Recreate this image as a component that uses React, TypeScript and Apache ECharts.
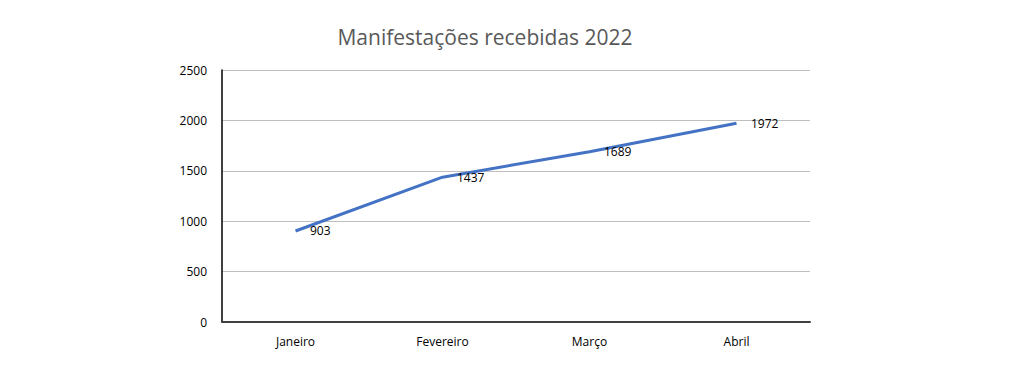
import React, { useEffect, useRef } from "react";
import * as echarts from "echarts";

const categories = ["Janeiro", "Fevereiro", "Março", "Abril"];
const values = [903, 1437, 1689, 1972];
const titleText = "Manifestações recebidas 2022";

export default function App() {
  const ref = useRef<HTMLDivElement>(null);
  useEffect(() => {
    const chart = echarts.init(ref.current!, null, { renderer: "svg" });
    chart.setOption({
      animation: false,
      backgroundColor: "#ffffff",
      title: {
        text: titleText,
        left: 480,
        textAlign: "center",
        top: 21,
        textStyle: { fontFamily: "Open Sans", fontSize: 21, fontWeight: "normal", color: "#595959" },
      },
      grid: { left: 222, right: 216, top: 70, bottom: 64 },
      xAxis: {
        type: "category",
        data: categories,
        boundaryGap: true,
        axisLine: { show: true, lineStyle: { color: "#404040", width: 2 } },
        axisTick: { show: false },
        axisLabel: { color: "#000", fontFamily: "Open Sans", fontSize: 12, margin: 13 },
      },
      yAxis: {
        type: "value",
        min: 0,
        max: 2500,
        interval: 500,
        axisLine: { show: true, lineStyle: { color: "#000", width: 1.5 } },
        axisTick: { show: false },
        axisLabel: {
          color: "#000",
          fontFamily: "Open Sans",
          fontSize: 12,
          margin: 15,
          formatter: (v: number) => String(v),
        },
        splitLine: { lineStyle: { color: "#bfbfbf", width: 1 } },
      },
      series: [
        {
          type: "line",
          data: values,
          symbol: "circle",
          symbolSize: 1,
          showSymbol: true,
          itemStyle: { opacity: 0 },
          lineStyle: { color: "#4472C4", width: 3 },
          label: {
            show: true,
            position: "right",
            distance: 0,
            offset: [14, 0],
            color: "#000",
            fontFamily: "Open Sans",
            fontSize: 12,
            opacity: 1,
          },
        },
      ],
    });
    return () => chart.dispose();
  }, []);
  return (
    <div
      ref={ref}
      style={{ position: "fixed", left: 0, top: 0, width: 1026, height: 386, background: "#fff" }}
    />
  );
}
